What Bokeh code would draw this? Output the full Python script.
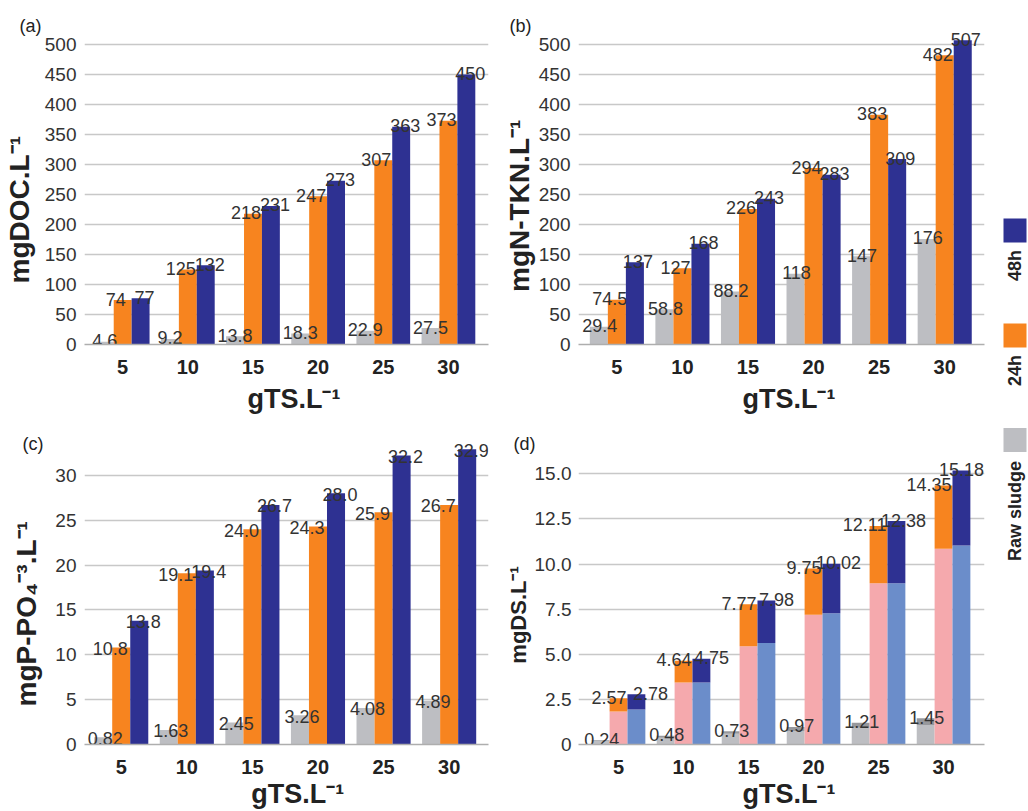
import math
import numpy as np
from bokeh.plotting import figure
from bokeh.models import Range1d, FixedTicker, Label, CustomJSTickFormatter
from bokeh.layouts import row, column
from bokeh.embed import file_html
from bokeh.resources import INLINE
from bokeh.core.properties import value

# ---------------- data ----------------
categories = ["5", "10", "15", "20", "25", "30"]   # gTS.L-1
series_names = ["Raw sludge", "24h", "48h"]

doc_raw = [4.6, 9.2, 13.8, 18.3, 22.9, 27.5]
doc_24h = [74, 125, 218, 247, 307, 373]
doc_48h = [77, 132, 231, 273, 363, 450]

tkn_raw = [29.4, 58.8, 88.2, 118, 147, 176]
tkn_24h = [74.5, 127, 226, 294, 383, 482]
tkn_48h = [137, 168, 243, 283, 309, 507]

po4_raw = [0.82, 1.63, 2.45, 3.26, 4.08, 4.89]
po4_24h = [10.8, 19.1, 24.0, 24.3, 25.9, 26.7]
po4_48h = [13.8, 19.4, 26.7, 28.0, 32.2, 32.9]

ds_raw = [0.24, 0.48, 0.73, 0.97, 1.21, 1.45]
ds_raw_lower = [0.19, 0.38, 0.60, 0.75, 0.93, 1.08]
ds_24h = [2.57, 4.64, 7.77, 9.75, 12.11, 14.35]
ds_24h_lower = [1.83, 3.44, 5.45, 7.19, 8.93, 10.85]
ds_48h = [2.78, 4.75, 7.98, 10.02, 12.38, 15.18]
ds_48h_lower = [1.94, 3.44, 5.63, 7.28, 8.93, 11.03]

ticks_ab = [0, 50, 100, 150, 200, 250, 300, 350, 400, 450, 500]
ticks_c = [0, 5, 10, 15, 20, 25, 30]
ticks_d = [0, 2.5, 5.0, 7.5, 10.0, 12.5, 15.0]

# ---------------- style ----------------
FONT = "Liberation Sans"
C_RAW = "#BDBEC2"
C_RAW_TOP = "#97989C"
C_24 = "#F7841F"
C_24_LOW = "#F5A9AD"
C_48 = "#2E3192"
C_48_LOW = "#6B8DCA"
GRID = "#C8C8C8"
TXT = "#333333"
DARK = "#222222"
NB = "\u00a0"
BW = 0.275
xs = np.arange(1, len(categories) + 1)


def base_fig(w, h, bl, br, bt, bb, xr, yr, yticks, tag, tag_xy,
             ytitle, ytitle_size, y_lab_standoff, y_tick_standoff,
             xtitle, x_lab_standoff, formatter=None):
    p = figure(width=w, height=h, x_range=Range1d(*xr), y_range=Range1d(*yr),
               output_backend="svg", toolbar_location=None,
               min_border_left=bl, min_border_right=br,
               min_border_top=bt, min_border_bottom=bb)
    p.outline_line_color = None
    p.background_fill_color = "white"
    p.border_fill_color = "white"
    p.xgrid.visible = False
    p.ygrid.ticker = FixedTicker(ticks=yticks)
    p.ygrid.grid_line_color = GRID
    p.ygrid.grid_line_width = 1.3

    ya = p.yaxis[0]
    ya.ticker = FixedTicker(ticks=yticks)
    if formatter is not None:
        ya.formatter = formatter
    ya.axis_line_color = None
    ya.major_tick_line_color = None
    ya.minor_tick_line_color = None
    ya.major_label_standoff = y_tick_standoff
    ya.major_label_text_font = FONT
    ya.major_label_text_font_size = "19px"
    ya.major_label_text_color = TXT
    ya.axis_label = ytitle
    ya.axis_label_text_font = FONT
    ya.axis_label_text_font_size = ytitle_size
    ya.axis_label_text_font_style = "bold"
    ya.axis_label_text_color = DARK
    ya.axis_label_standoff = y_lab_standoff

    xa = p.xaxis[0]
    xa.ticker = FixedTicker(ticks=list(xs))
    xa.major_label_overrides = {int(i): c for i, c in zip(xs, categories)}
    xa.axis_line_color = "#AEAEAE"
    xa.axis_line_width = 1.5
    xa.major_tick_line_color = None
    xa.minor_tick_line_color = None
    xa.major_label_standoff = 9
    xa.major_label_text_font = FONT
    xa.major_label_text_font_style = "bold"
    xa.major_label_text_font_size = "20px"
    xa.major_label_text_color = DARK
    xa.axis_label = xtitle
    xa.axis_label_text_font = FONT
    xa.axis_label_text_font_size = "27px"
    xa.axis_label_text_font_style = "bold"
    xa.axis_label_text_color = DARK
    xa.axis_label_standoff = x_lab_standoff

    p.add_layout(Label(x=tag_xy[0], y=tag_xy[1], x_units="screen", y_units="screen",
                       text=tag, text_font=FONT, text_font_size="18px",
                       text_color=DARK, text_baseline="top", text_align="left"),
                 "above")
    return p


def value_labels(p, x, vals, fmt, dx, align="center", dy=-1):
    p.text(x=x, y=vals, text=[fmt.format(v) for v in vals], x_offset=dx, y_offset=dy,
           text_align=align, text_baseline="alphabetic",
           text_font=value(FONT), text_font_size="18px", text_color=TXT)


def grouped(p, series, fmts, dxs, dy=-1):
    offs = [-BW, 0.0, BW]
    colors = [C_RAW, C_24, C_48]
    for vals, off, col in zip(series, offs, colors):
        p.vbar(x=xs + off, top=vals, bottom=0, width=BW, fill_color=col, line_color=None)
    for vals, off, fmt, dx in zip(series, offs, fmts, dxs):
        value_labels(p, xs + off, vals, fmt, dx, dy=dy)


def xtitle(n_pad):
    return NB * n_pad + "gTS.L⁻¹"


# (a) DOC
pa = base_fig(500, 416, 80, 7, 20, 69, (0.414, 6.615), (0, 540), ticks_ab,
              "(a)", (-65, 5), "mgDOC.L⁻¹" + NB * 7, "28px", 7, 2, xtitle(2), 7)
grouped(pa, [doc_raw, doc_24h, doc_48h], ["{:g}", "{:g}", "{:g}"], [0, -7, 4])

# (b) N-TKN
pb = base_fig(492, 416, 72, 7, 20, 69, (0.415, 6.607), (0, 540), ticks_ab,
              "(b)", (-69, 5), "mgN-TKN.L⁻¹" + NB * 6, "28px", 1, 2, xtitle(2), 7)
grouped(pb, [tkn_raw, tkn_24h, tkn_48h], ["{:g}", "{:g}", "{:g}"], [1, -7, 3])

# (c) P-PO4
pc = base_fig(500, 395, 77, 12, 20, 64, (0.44, 6.6), (0, 34.33), ticks_c,
              "(c)", (-62, 3), "mgP-PO₄⁻³.L⁻¹" + NB * 6, "28px", 10, 2, xtitle(3), 2)
grouped(pc, [po4_raw, po4_24h, po4_48h], ["{:.2f}", "{:.1f}", "{:.1f}"], [2, -11, 4], dy=1)

# (d) DS (stacked sub-parts)
fmt_d = CustomJSTickFormatter(code="return tick == 0 ? '0' : tick.toFixed(1);")
pd_ = base_fig(492, 395, 68, 8, 20, 64, (0.384, 6.63), (0, 17.07), ticks_d,
               "(d)", (-65, 3), "mgDS.L⁻¹" + NB * 8, "22px", 1, 1, xtitle(2), 2, fmt_d)
stack_specs = [
    (-BW, ds_raw_lower, ds_raw, C_RAW, C_RAW_TOP),
    (0.0, ds_24h_lower, ds_24h, C_24_LOW, C_24),
    (BW, ds_48h_lower, ds_48h, C_48_LOW, C_48),
]
for off, low, tot, c_low, c_top in stack_specs:
    pd_.vbar(x=xs + off, bottom=0, top=low, width=BW, fill_color=c_low, line_color=None)
    pd_.vbar(x=xs + off, bottom=low, top=tot, width=BW, fill_color=c_top, line_color=None)
value_labels(pd_, xs - BW, ds_raw, "{:.2f}", 1)
value_labels(pd_, xs + BW / 2, ds_24h, "{:.2f}", -1, align="right")
ds48_label_dx = [14, 10, 10, 7, 7, 0]
value_labels(pd_, xs + BW, ds_48h, "{:.2f}", ds48_label_dx)

# legend strip (rotated)
leg = figure(width=36, height=811, x_range=Range1d(0, 36), y_range=Range1d(0, 811),
             output_backend="svg", toolbar_location=None, min_border=0,
             x_axis_type=None, y_axis_type=None)
leg.outline_line_color = None
leg.background_fill_color = "white"
leg.border_fill_color = "white"
leg_colors = [C_RAW, C_24, C_48]
leg_sq_y = [371.5, 476, 581]
leg_tx_y = [300.5, 441, 546]
leg.rect(x=[22.5] * 3, y=leg_sq_y, width=23, height=24, fill_color=leg_colors, line_color=None)
leg.text(x=[22] * 3, y=leg_tx_y, text=series_names, angle=math.pi / 2,
         text_align="center", text_baseline="middle", text_font=value(FONT),
         text_font_size="18px", text_font_style="bold", text_color=DARK)

layout = row(column(pa, pc), column(pb, pd_), leg)
open("out.html", "w").write(file_html(layout, INLINE))
